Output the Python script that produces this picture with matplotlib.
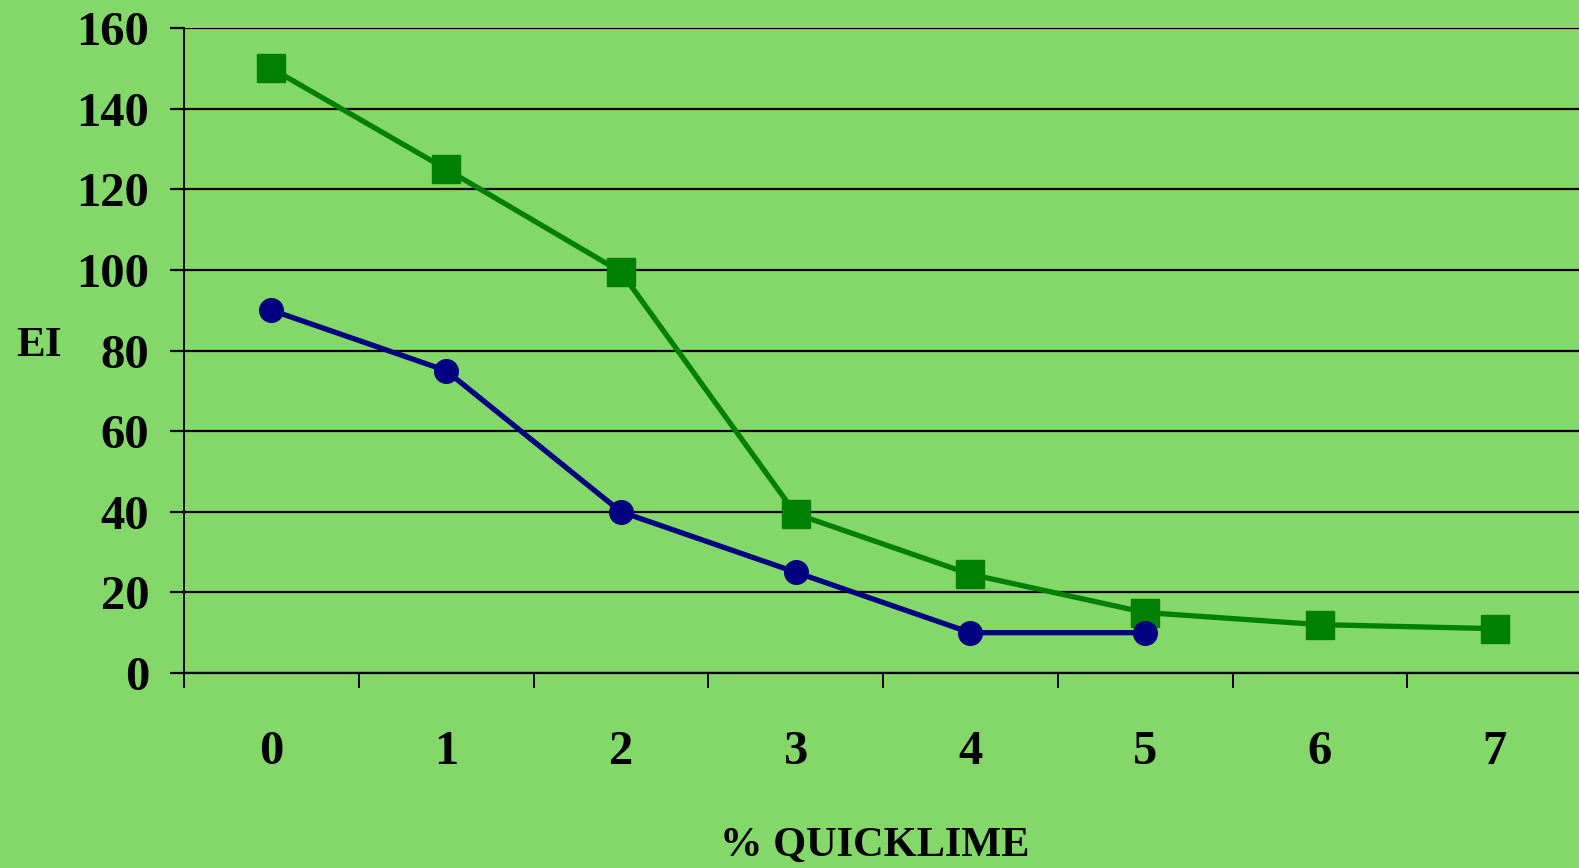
import numpy as np
import matplotlib.pyplot as plt

# EI against % quicklime for two soils
categories = ["0", "1", "2", "3", "4", "5", "6", "7"]
ei_soil_a = [150, 125, 99.5, 39.5, 24.5, 15, 12, 11]
ei_soil_b = [90, 75, 40, 25, 10, 10]
y_ticks = [0, 20, 40, 60, 80, 100, 120, 140, 160]

bg = "#84D86A"
plt.rcParams['font.family'] = ['Liberation Serif', 'DejaVu Serif']
plt.rcParams['font.weight'] = 'bold'

fig = plt.figure(figsize=(15.79, 8.68), dpi=100, facecolor=bg)
ax = fig.add_axes([184/1579, 1 - 673/868, (1582-184)/1579, (673-28)/868])
ax.set_facecolor(bg)

xa = np.arange(len(ei_soil_a))
xb = np.arange(len(ei_soil_b))
ax.plot(xa, ei_soil_a, color="#008000", lw=3.8, marker="s", ms=19.5,
        mfc="#008000", mec="#008000", zorder=3, clip_on=False)
ax.plot(xb, ei_soil_b, color="#000080", lw=3.8, marker="o", ms=17,
        mfc="#000080", mec="#000080", zorder=4, clip_on=False)

ax.set_xlim(-0.5, len(categories) - 0.5)
ax.set_ylim(0, 160)
ax.set_yticks(y_ticks)
ax.set_yticklabels([str(v) for v in y_ticks], fontsize=35, fontweight='bold')
ax.yaxis.grid(True, color="black", lw=1.6)
ax.set_axisbelow(True)

# category ticks sit between the categories, labels at the centres
ax.set_xticks(np.arange(len(categories)) - 0.5)
ax.set_xticklabels([])
ax.set_xticks(np.arange(len(categories)), minor=True)
ax.set_xticklabels(categories, minor=True, fontsize=35, fontweight='bold')
ax.tick_params(axis='x', which='major', direction='out', length=11, width=1.4, color='black')
ax.tick_params(axis='x', which='minor', length=0, pad=41)
ax.tick_params(axis='y', direction='out', length=10, width=1.6, pad=15)

for side in ["top", "right"]:
    ax.spines[side].set_visible(False)
ax.spines["left"].set_linewidth(1.4)
ax.spines["bottom"].set_linewidth(1.6)

fig.text(875/1579, 1 - 846/868, "% QUICKLIME", ha="center", va="center",
         fontsize=30.5, fontweight='bold')
fig.text(39/1579, 1 - 346/868, "EI", ha="center", va="center",
         fontsize=31, fontweight='bold')

fig.savefig("out.png", dpi=100, facecolor=bg)
